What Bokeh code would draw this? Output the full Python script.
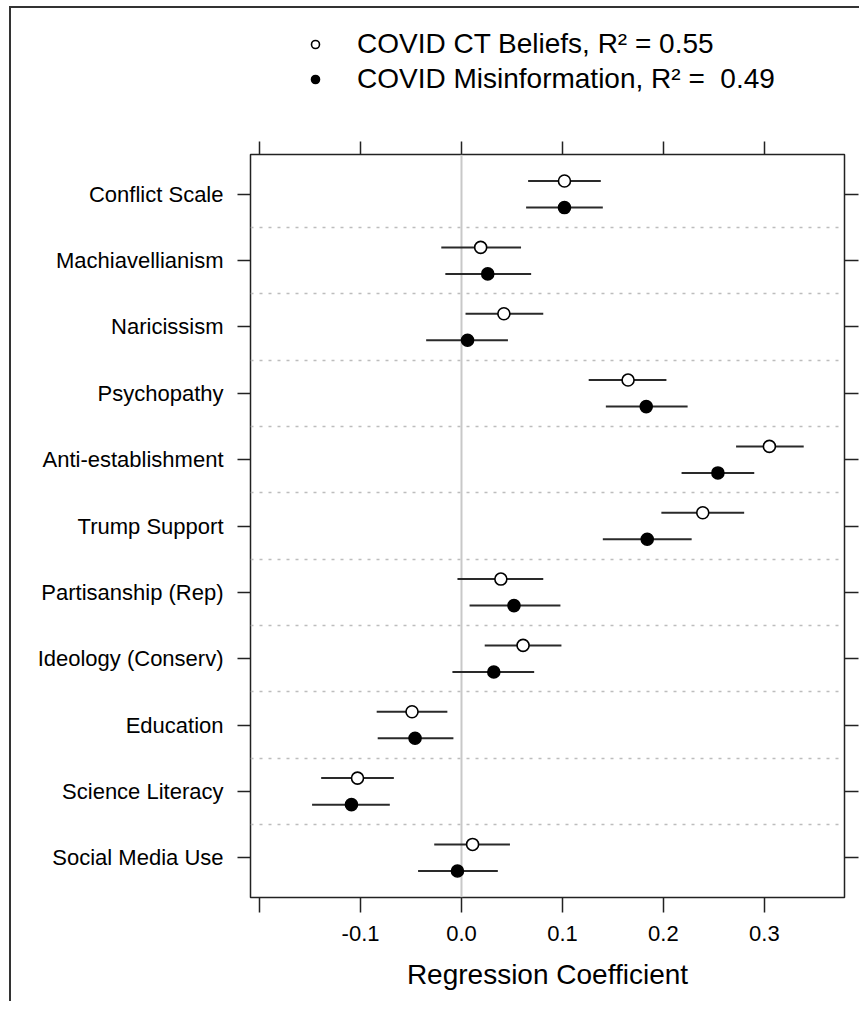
from bokeh.plotting import figure
from bokeh.layouts import column
from bokeh.models import (ColumnDataSource, FixedTicker, LinearAxis, Range1d, Span,
                          Legend, LegendItem)
from bokeh.embed import file_html
from bokeh.resources import INLINE

# ---------------- data ----------------
categories = ["Conflict Scale", "Machiavellianism", "Naricissism", "Psychopathy",
              "Anti-establishment", "Trump Support", "Partisanship (Rep)",
              "Ideology (Conserv)", "Education", "Science Literacy", "Social Media Use"]

ct_est = [0.102, 0.019, 0.042, 0.165, 0.305, 0.239, 0.039, 0.061, -0.049, -0.103, 0.011]
ct_lo = [0.066, -0.020, 0.004, 0.126, 0.272, 0.198, -0.004, 0.023, -0.084, -0.139, -0.027]
ct_hi = [0.138, 0.059, 0.081, 0.203, 0.339, 0.280, 0.081, 0.099, -0.014, -0.067, 0.048]

mis_est = [0.102, 0.026, 0.006, 0.183, 0.254, 0.184, 0.052, 0.032, -0.046, -0.109, -0.004]
mis_lo = [0.064, -0.016, -0.035, 0.143, 0.218, 0.140, 0.008, -0.009, -0.083, -0.148, -0.043]
mis_hi = [0.140, 0.069, 0.046, 0.224, 0.290, 0.228, 0.098, 0.072, -0.008, -0.071, 0.036]

x_ticks = [-0.2, -0.1, 0.0, 0.1, 0.2, 0.3]
x_tick_labels = ["", "-0.1", "0.0", "0.1", "0.2", "0.3"]

ct_label = "COVID CT Beliefs, R\u00b2 = 0.55"
mis_label = "COVID Misinformation, R\u00b2 =  0.49"
x_title = "Regression Coefficient"

# ---------------- layout ----------------
n = len(categories)
pos = [n - i for i in range(n)]          # top category highest
offset = 0.2
FONT = "Liberation Sans"
W = 859
LEG_H = 110
LINE = "#333333"

CT_STYLE = dict(marker="circle", size=12, fill_color="white", line_color="black", line_width=1.6)
MIS_STYLE = dict(marker="circle", size=12, fill_color="black", line_color="black", line_width=1.6)

src_ct = ColumnDataSource(dict(y=[v + offset for v in pos], est=ct_est, lo=ct_lo, hi=ct_hi))
src_mis = ColumnDataSource(dict(y=[v - offset for v in pos], est=mis_est, lo=mis_lo, hi=mis_hi))

# ---- legend strip (own figure above the chart; its range shows no data) ----
lf = figure(width=W, height=LEG_H, output_backend="svg", toolbar_location=None,
            x_range=Range1d(-0.209, 0.3794), y_range=Range1d(100, 101),
            x_axis_type=None, y_axis_type=None,
            min_border_left=0, min_border_right=0, min_border_top=0, min_border_bottom=0,
            background_fill_color=None, border_fill_color=None, outline_line_color=None)
lf.xgrid.grid_line_color = None
lf.ygrid.grid_line_color = None
lf.styles = {"background": f"linear-gradient({LINE},{LINE}) 9px 6px / 2px 100% no-repeat, "
                           f"linear-gradient({LINE},{LINE}) 9px 6px / 100% 2px no-repeat, white"}
lr_ct = lf.scatter(x="est", y="y", source=src_ct, **CT_STYLE)
lr_mis = lf.scatter(x="est", y="y", source=src_mis, **MIS_STYLE)
legend = Legend(items=[LegendItem(label=ct_label, renderers=[lr_ct]),
                       LegendItem(label=mis_label, renderers=[lr_mis])],
                location=(55, 15), orientation="vertical",
                border_line_color=None, background_fill_alpha=0,
                label_text_font=FONT, label_text_font_size="28px",
                label_text_color="black", glyph_width=20, glyph_height=32,
                label_height=32, label_standoff=32, spacing=3, padding=5, margin=0)
lf.add_layout(legend, "center")

# ---- main chart ----
p = figure(width=W, height=1001 - LEG_H, output_backend="svg", toolbar_location=None,
           x_range=Range1d(-0.209, 0.3794), y_range=Range1d(0.4, n + 0.6),
           min_border_left=250, min_border_right=15, min_border_top=154 - LEG_H,
           min_border_bottom=104, background_fill_color="white",
           border_fill_color=None)
p.styles = {"background": f"linear-gradient({LINE},{LINE}) 9px 0px / 2px 100% no-repeat, white"}

p.outline_line_color = "#222222"
p.outline_line_width = 1.5

zero = Span(location=0, dimension="height", line_color="#c8c8c8", line_width=2, level="underlay")
p.add_layout(zero)

p.segment(x0="lo", x1="hi", y0="y", y1="y", source=src_ct, line_color="#2a2a2a", line_width=2)
p.segment(x0="lo", x1="hi", y0="y", y1="y", source=src_mis, line_color="#2a2a2a", line_width=2)
p.scatter(x="est", y="y", source=src_ct, **CT_STYLE)
p.scatter(x="est", y="y", source=src_mis, **MIS_STYLE)

# grids
p.xgrid.grid_line_color = None
p.ygrid.ticker = FixedTicker(ticks=[v + 0.5 for v in range(1, n)])
p.ygrid.grid_line_color = "#bdbdbd"
p.ygrid.grid_line_dash = "3 6"
p.ygrid.grid_line_width = 1.5


def style_axis(ax):
    ax.axis_line_color = None
    ax.major_tick_out = 13
    ax.major_tick_in = 0
    ax.minor_tick_line_color = None
    ax.major_tick_line_color = "#222222"
    ax.major_tick_line_width = 1.5
    ax.major_label_text_font = FONT
    ax.major_label_text_color = "black"


# bottom axis
xb = p.xaxis[0]
xb.ticker = FixedTicker(ticks=x_ticks)
xb.major_label_overrides = {t: l for t, l in zip(x_ticks, x_tick_labels)}
style_axis(xb)
xb.major_tick_out = 15
xb.major_label_text_font_size = "22px"
xb.major_label_standoff = 13
xb.axis_label = x_title
xb.axis_label_text_font = FONT
xb.axis_label_text_font_style = "normal"
xb.axis_label_text_font_size = "28px"
xb.axis_label_text_color = "black"
xb.axis_label_standoff = 15

# left axis (category labels)
yl = p.yaxis[0]
yl.ticker = FixedTicker(ticks=pos)
yl.major_label_overrides = {v: c for v, c in zip(pos, categories)}
style_axis(yl)
yl.major_label_text_font_size = "22px"
yl.major_label_standoff = 14

# top axis
xt = LinearAxis(ticker=FixedTicker(ticks=x_ticks),
                major_label_overrides={t: "" for t in x_ticks})
style_axis(xt)
xt.major_label_standoff = 0
p.add_layout(xt, "above")

# right axis
yr = LinearAxis(ticker=FixedTicker(ticks=pos),
                major_label_overrides={v: "" for v in pos})
style_axis(yr)
yr.major_tick_out = 14
yr.major_label_standoff = 0
p.add_layout(yr, "right")

layout = column(lf, p, spacing=0)
open("out.html", "w").write(file_html(layout, INLINE))
